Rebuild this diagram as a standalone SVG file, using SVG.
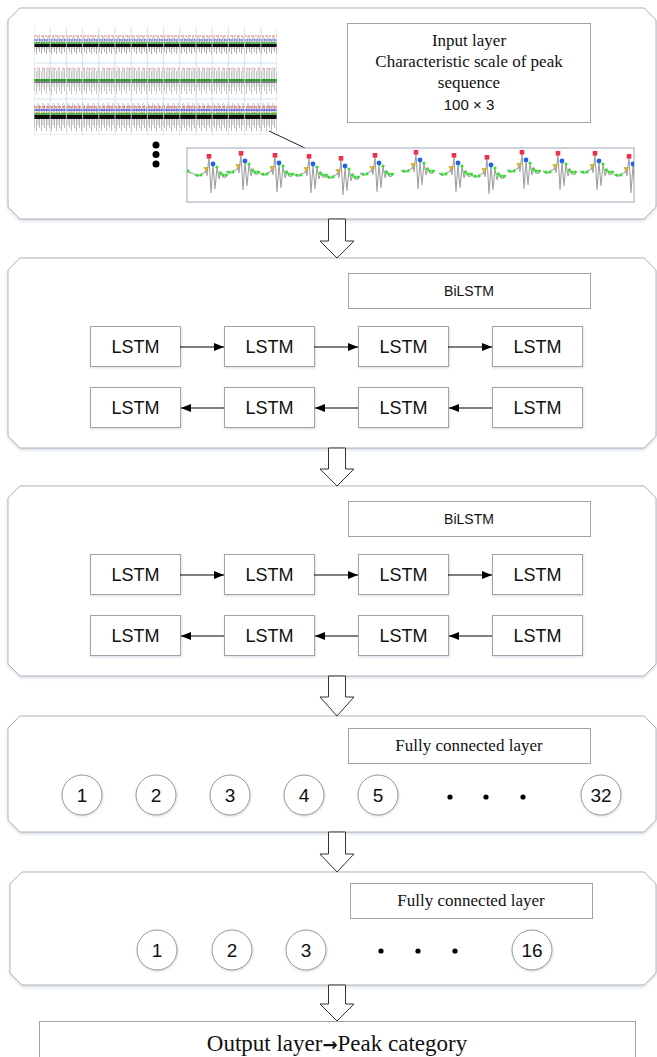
<svg xmlns="http://www.w3.org/2000/svg" width="657" height="1057" viewBox="0 0 657 1057">
<style>
.panel{fill:#ffffff;stroke:#b4b4b4;stroke-width:1;filter:url(#sh)}
.box{fill:#ffffff;stroke:#a3a3a3;stroke-width:1}
.lbox{fill:#ffffff;stroke:#a3a3a3;stroke-width:1;filter:url(#sh2)}
.circ{fill:#ffffff;stroke:#9a9a9a;stroke-width:1;filter:url(#sh2)}
.serif{font-family:"Liberation Serif","Times New Roman",serif;fill:#111;text-anchor:middle}
.sans{font-family:"Liberation Sans",Arial,sans-serif;fill:#111;text-anchor:middle}
.lstm{font-size:18px}
.num{font-size:19px}
.conn{stroke:#000;stroke-width:1.2;fill:none}
.harrow{fill:#ffffff;stroke:#333;stroke-width:1}
.dot{fill:#000}
.wave{fill:none;stroke:#a0a0a0;stroke-width:1.1}
.grid{stroke:#c8dcec;stroke-width:0.8}
</style>
<defs>
<filter id="sh" x="-3%" y="-5%" width="106%" height="112%">
<feDropShadow dx="0" dy="1.5" stdDeviation="1.5" flood-color="#9fb3cc" flood-opacity="0.45"/>
</filter>
<filter id="sh2" x="-10%" y="-10%" width="120%" height="130%">
<feDropShadow dx="0.5" dy="1" stdDeviation="1" flood-color="#9fb3cc" flood-opacity="0.5"/>
</filter>
<filter id="soft" x="0" y="0" width="100%" height="100%">
<feGaussianBlur stdDeviation="0.4"/>
</filter>
<marker id="ah" viewBox="0 0 10 8" refX="10" refY="4" markerWidth="10" markerHeight="8" markerUnits="userSpaceOnUse" orient="auto">
<path d="M0,0 L10,4 L0,8 Z" fill="#000"/>
</marker>
<pattern id="p1" x="34" y="36" width="5" height="18" patternUnits="userSpaceOnUse">
<path d="M0.5,2V16M2.5,5V18M4,0V13" stroke="#9c9c9c" stroke-width="0.8"/>
</pattern>
<pattern id="p2" x="34" y="67" width="5" height="27" patternUnits="userSpaceOnUse">
<path d="M0.5,1V24M2.5,4V27M4,0V20" stroke="#b4b4b4" stroke-width="0.8"/>
</pattern>
<pattern id="p3" x="34" y="103" width="5" height="28" patternUnits="userSpaceOnUse">
<path d="M0.5,2V25M2.5,5V28M4,0V22" stroke="#a8a8a8" stroke-width="0.8"/>
</pattern>
<clipPath id="zc"><rect x="187" y="148" width="447" height="54"/></clipPath>
<g id="beat">
<path class="wave" d="M0,173 C2,175 4,176 6,174 S9,172 10,172 L12,170 L13,175 L15,156 L17,192 L19,164 L21,188 L23,166 L25,178 L27,171 L29,176 C31,177 33,175 34,173"/>
<path d="M9.8,166.5 H14.2 L12,170.5 Z" fill="#e0c020" stroke="#a08000" stroke-width="0.4"/>
<rect x="12.7" y="153" width="4.6" height="4.6" fill="#f0304a"/>
<circle cx="19" cy="163" r="2.4" fill="#2060f0"/>
<g fill="#30e030">
<circle cx="23" cy="166" r="1.6"/><circle cx="26" cy="172" r="1.6"/><circle cx="29" cy="174" r="1.6"/><circle cx="32" cy="174" r="1.6"/><circle cx="3" cy="174" r="1.6"/><circle cx="7" cy="174" r="1.6"/>
</g>
</g>
</defs>

<!-- Panels -->
<g id="panel-input">
<path class="panel" d="M20,8 H644 L656,20 V207 L644,219 H20 L8,207 V20 Z"/>
<g id="strips" filter="url(#soft)">
<rect x="34" y="27" width="243" height="108" fill="#ffffff"/>
<rect x="34" y="36" width="243" height="18" fill="url(#p1)"/>
<path d="M34,36 H277" stroke="#f4a0a0" stroke-width="1.4" stroke-dasharray="3 1 2 1"/>
<path d="M34,40 H277" stroke="#8080e0" stroke-width="1.3" stroke-dasharray="4 1"/>
<path d="M34,43 H277" stroke="#30b030" stroke-width="1.6"/>
<rect x="34" y="44" width="243" height="3" fill="#111"/>
<rect x="34" y="67" width="243" height="27" fill="url(#p2)"/>
<path d="M34,69 H277" stroke="#f0b8c8" stroke-width="1.4" stroke-dasharray="2 2"/>
<path d="M34,80 H277" stroke="#2aa02a" stroke-width="2"/>
<path d="M34,82 H277" stroke="#222" stroke-width="1"/>
<rect x="34" y="103" width="243" height="28" fill="url(#p3)"/>
<path d="M34,107 H277" stroke="#f07070" stroke-width="1.4" stroke-dasharray="3 1"/>
<path d="M34,110 H277" stroke="#6060e0" stroke-width="1.4"/>
<path d="M34,113 H277" stroke="#c0b020" stroke-width="1.2" stroke-dasharray="5 2"/>
<path d="M34,114 H277" stroke="#30a030" stroke-width="1.4"/>
<rect x="34" y="115" width="243" height="4" fill="#111"/>
<g class="grid">
<path d="M34,27V135M50.2,27V135M66.4,27V135M82.6,27V135M98.8,27V135M115,27V135M131.2,27V135M147.4,27V135M163.6,27V135M179.8,27V135M196,27V135M212.2,27V135M228.4,27V135M244.6,27V135M260.8,27V135M277,27V135"/>
<path d="M34,63H277M34,99H277M34,135H277"/>
</g>
</g>
<circle class="dot" cx="156" cy="145" r="3.5"/>
<circle class="dot" cx="156" cy="154.5" r="3.5"/>
<circle class="dot" cx="156" cy="164" r="3.5"/>
<line x1="269" y1="131" x2="305" y2="148" stroke="#222" stroke-width="1"/>
<g id="zoomed-signal">
<rect x="187" y="148" width="447" height="54" fill="#ffffff" stroke="#9aa8b8" stroke-width="1"/>
<g clip-path="url(#zc)">
<path class="wave" d="M187,171 C190,173 192,174 194,173"/>
<circle cx="188" cy="171" r="1.6" fill="#30e030"/>
<use href="#beat" x="194" y="1"/>
<use href="#beat" x="226" y="-2"/>
<use href="#beat" x="260" y="0"/>
<use href="#beat" x="294" y="1"/>
<use href="#beat" x="326" y="3"/>
<use href="#beat" x="360" y="0"/>
<use href="#beat" x="401" y="-3"/>
<use href="#beat" x="439" y="0"/>
<use href="#beat" x="472" y="2"/>
<use href="#beat" x="507" y="-3"/>
<use href="#beat" x="543" y="-2"/>
<use href="#beat" x="580" y="-2"/>
<use href="#beat" x="614" y="1"/>
</g>
</g>
<g id="input-label">
<rect class="box" x="347.5" y="23.5" width="243" height="99"/>
<text class="serif" x="469" y="46" font-size="17">Input layer</text>
<text class="serif" x="469" y="67" font-size="17">Characteristic scale of peak</text>
<text class="serif" x="469" y="88" font-size="17">sequence</text>
<text class="sans" x="469" y="110" font-size="15">100 × 3</text>
</g>
</g>

<g id="panel-bilstm1">
<path class="panel" d="M20,258 H644 L656,270 V436 L644,448 H20 L8,436 V270 Z"/>
<rect class="box" x="348.5" y="273.5" width="242" height="35"/>
<text class="sans" x="469" y="296" font-size="14">BiLSTM</text>
<g id="b1-f1"><rect class="lbox" x="90.5" y="326.5" width="90" height="40"/><text class="sans lstm" x="135.5" y="353">LSTM</text></g>
<g id="b1-f2"><rect class="lbox" x="224.5" y="326.5" width="90" height="40"/><text class="sans lstm" x="269.5" y="353">LSTM</text></g>
<g id="b1-f3"><rect class="lbox" x="358.5" y="326.5" width="90" height="40"/><text class="sans lstm" x="403.5" y="353">LSTM</text></g>
<g id="b1-f4"><rect class="lbox" x="492.5" y="326.5" width="90" height="40"/><text class="sans lstm" x="537.5" y="353">LSTM</text></g>
<g id="b1-b1"><rect class="lbox" x="90.5" y="387.5" width="90" height="40"/><text class="sans lstm" x="135.5" y="414">LSTM</text></g>
<g id="b1-b2"><rect class="lbox" x="224.5" y="387.5" width="90" height="40"/><text class="sans lstm" x="269.5" y="414">LSTM</text></g>
<g id="b1-b3"><rect class="lbox" x="358.5" y="387.5" width="90" height="40"/><text class="sans lstm" x="403.5" y="414">LSTM</text></g>
<g id="b1-b4"><rect class="lbox" x="492.5" y="387.5" width="90" height="40"/><text class="sans lstm" x="537.5" y="414">LSTM</text></g>
</g>

<g id="panel-bilstm2">
<path class="panel" d="M20,486 H644 L656,498 V664 L644,676 H20 L8,664 V498 Z"/>
<rect class="box" x="348.5" y="501.5" width="242" height="35"/>
<text class="sans" x="469" y="524" font-size="14">BiLSTM</text>
<g id="b2-f1"><rect class="lbox" x="90.5" y="554.5" width="90" height="40"/><text class="sans lstm" x="135.5" y="581">LSTM</text></g>
<g id="b2-f2"><rect class="lbox" x="224.5" y="554.5" width="90" height="40"/><text class="sans lstm" x="269.5" y="581">LSTM</text></g>
<g id="b2-f3"><rect class="lbox" x="358.5" y="554.5" width="90" height="40"/><text class="sans lstm" x="403.5" y="581">LSTM</text></g>
<g id="b2-f4"><rect class="lbox" x="492.5" y="554.5" width="90" height="40"/><text class="sans lstm" x="537.5" y="581">LSTM</text></g>
<g id="b2-b1"><rect class="lbox" x="90.5" y="615.5" width="90" height="40"/><text class="sans lstm" x="135.5" y="642">LSTM</text></g>
<g id="b2-b2"><rect class="lbox" x="224.5" y="615.5" width="90" height="40"/><text class="sans lstm" x="269.5" y="642">LSTM</text></g>
<g id="b2-b3"><rect class="lbox" x="358.5" y="615.5" width="90" height="40"/><text class="sans lstm" x="403.5" y="642">LSTM</text></g>
<g id="b2-b4"><rect class="lbox" x="492.5" y="615.5" width="90" height="40"/><text class="sans lstm" x="537.5" y="642">LSTM</text></g>
</g>

<g id="panel-fc32">
<path class="panel" d="M20,716 H644 L656,728 V820 L644,832 H20 L8,820 V728 Z"/>
<rect class="box" x="348.5" y="728.5" width="242" height="35"/>
<text class="serif" x="469" y="751" font-size="17">Fully connected layer</text>
<g id="fc32-1"><circle class="circ" cx="82" cy="795" r="20"/><text class="sans num" x="82" y="802">1</text></g>
<g id="fc32-2"><circle class="circ" cx="156" cy="795" r="20"/><text class="sans num" x="156" y="802">2</text></g>
<g id="fc32-3"><circle class="circ" cx="230" cy="795" r="20"/><text class="sans num" x="230" y="802">3</text></g>
<g id="fc32-4"><circle class="circ" cx="304" cy="795" r="20"/><text class="sans num" x="304" y="802">4</text></g>
<g id="fc32-5"><circle class="circ" cx="378" cy="795" r="20"/><text class="sans num" x="378" y="802">5</text></g>
<circle class="dot" cx="450" cy="797" r="2.6"/>
<circle class="dot" cx="486" cy="797" r="2.6"/>
<circle class="dot" cx="523" cy="797" r="2.6"/>
<g id="fc32-32"><circle class="circ" cx="601" cy="795" r="20"/><text class="sans num" x="601" y="802">32</text></g>
</g>

<g id="panel-fc16">
<path class="panel" d="M22,872 H644 L656,884 V973 L644,985 H22 L10,973 V884 Z"/>
<rect class="box" x="350.5" y="883.5" width="242" height="35"/>
<text class="serif" x="471" y="906" font-size="17">Fully connected layer</text>
<g id="fc16-1"><circle class="circ" cx="157" cy="950" r="20"/><text class="sans num" x="157" y="957">1</text></g>
<g id="fc16-2"><circle class="circ" cx="232" cy="950" r="20"/><text class="sans num" x="232" y="957">2</text></g>
<g id="fc16-3"><circle class="circ" cx="306" cy="950" r="20"/><text class="sans num" x="306" y="957">3</text></g>
<circle class="dot" cx="381" cy="951" r="2.6"/>
<circle class="dot" cx="418" cy="951" r="2.6"/>
<circle class="dot" cx="455" cy="951" r="2.6"/>
<g id="fc16-16"><circle class="circ" cx="532" cy="950" r="20"/><text class="sans num" x="532" y="957">16</text></g>
</g>

<g id="output">
<rect class="box" x="39.5" y="1021.5" width="596" height="45"/>
<text class="serif" x="337" y="1051" font-size="23">Output layer<tspan font-family="'DejaVu Sans',sans-serif" font-weight="bold" font-size="18">→</tspan>Peak category</text>
</g>

<g id="connectors">
<line class="conn" x1="180" y1="347" x2="224" y2="347" marker-end="url(#ah)"/>
<line class="conn" x1="314" y1="347" x2="358" y2="347" marker-end="url(#ah)"/>
<line class="conn" x1="448" y1="347" x2="492" y2="347" marker-end="url(#ah)"/>
<line class="conn" x1="224" y1="408" x2="181" y2="408" marker-end="url(#ah)"/>
<line class="conn" x1="358" y1="408" x2="315" y2="408" marker-end="url(#ah)"/>
<line class="conn" x1="492" y1="408" x2="449" y2="408" marker-end="url(#ah)"/>
<line class="conn" x1="180" y1="575" x2="224" y2="575" marker-end="url(#ah)"/>
<line class="conn" x1="314" y1="575" x2="358" y2="575" marker-end="url(#ah)"/>
<line class="conn" x1="448" y1="575" x2="492" y2="575" marker-end="url(#ah)"/>
<line class="conn" x1="224" y1="636" x2="181" y2="636" marker-end="url(#ah)"/>
<line class="conn" x1="358" y1="636" x2="315" y2="636" marker-end="url(#ah)"/>
<line class="conn" x1="492" y1="636" x2="449" y2="636" marker-end="url(#ah)"/>
<path class="harrow" d="M328.5,219 H345.5 V241 H354 L337,258 L320,241 H328.5 Z"/>
<path class="harrow" d="M328.5,448 H345.5 V469 H354 L337,486 L320,469 H328.5 Z"/>
<path class="harrow" d="M328.5,676 H345.5 V697 H354 L337,716 L320,697 H328.5 Z"/>
<path class="harrow" d="M328.5,832 H345.5 V854 H354 L337,872 L320,854 H328.5 Z"/>
<path class="harrow" d="M328.5,985 H345.5 V1004 H354 L337,1021 L320,1004 H328.5 Z"/>
</g>
</svg>
